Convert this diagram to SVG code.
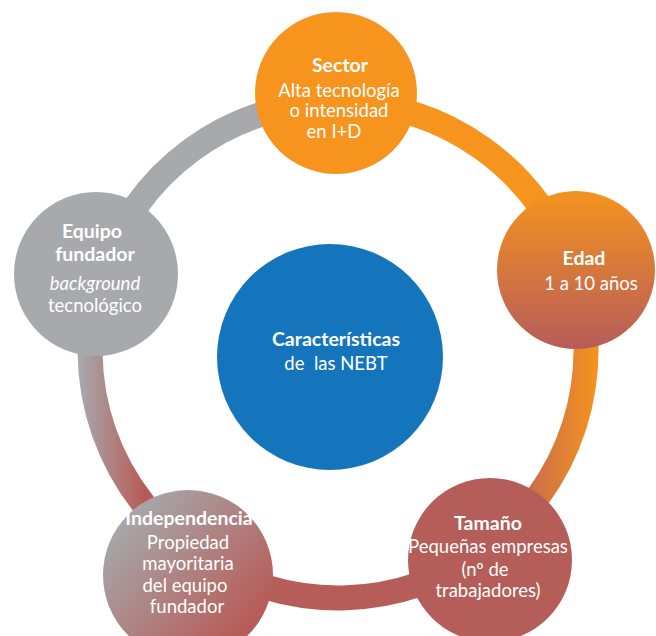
<svg xmlns="http://www.w3.org/2000/svg" width="656" height="636" viewBox="0 0 656 636">
<style>
  text { font-family: Lato, "Open Sans", sans-serif; font-size: 18.5px; fill: #ffffff; text-anchor: middle; }
  .b { font-weight: bold; font-size: 19.5px; }
  .i { font-style: italic; }
  .ring { fill: none; stroke-width: 25; }
</style>
<defs>
  <linearGradient id="gEdadRing" gradientUnits="userSpaceOnUse" x1="500" y1="0" x2="600" y2="0">
    <stop offset="0" stop-color="#b85e5a"/>
    <stop offset="1" stop-color="#f7941e"/>
  </linearGradient>
  <linearGradient id="gEquipoRing" gradientUnits="userSpaceOnUse" x1="80" y1="0" x2="145" y2="0">
    <stop offset="0" stop-color="#a7a8ab"/>
    <stop offset="1" stop-color="#b85a55"/>
  </linearGradient>
  <linearGradient id="gEdad" x1="0" y1="0" x2="0" y2="1">
    <stop offset="0" stop-color="#f5931f"/>
    <stop offset="1" stop-color="#b65c5a"/>
  </linearGradient>
  <linearGradient id="gIndep" x1="0.12" y1="0.15" x2="0.85" y2="0.8">
    <stop offset="0" stop-color="#a6a8ab"/>
    <stop offset="1" stop-color="#b75c58"/>
  </linearGradient>
</defs>
<g id="connectors">
  <path class="ring" stroke="#a7a9ac" d="M 101.4 275.8 A 248 248 0 0 1 338 102"/>
  <path class="ring" stroke="#f7941e" d="M 338 102 A 248 248 0 0 1 573.1 270.9"/>
  <path class="ring" stroke="url(#gEdadRing)" d="M 573.1 270.9 A 248 248 0 0 1 483.8 550.6"/>
  <path class="ring" stroke="#b65d59" d="M 483.8 550.6 A 248 248 0 0 1 200.4 556.3"/>
  <path class="ring" stroke="url(#gEquipoRing)" d="M 200.4 556.3 A 248 248 0 0 1 101.4 275.8"/>
</g>
<g id="center">
  <circle cx="330" cy="357" r="113" fill="#1474bc"/>
  <text class="b" x="336" y="346">Características</text>
  <text x="336" y="370" xml:space="preserve">de  las NEBT</text>
</g>
<g id="sector">
  <circle cx="336" cy="93" r="81" fill="#f7941e"/>
  <text class="b" x="340" y="72">Sector</text>
  <text x="339" y="97">Alta tecnología</text>
  <text x="339" y="117">o intensidad</text>
  <text x="334" y="138">en I+D</text>
</g>
<g id="edad">
  <circle cx="576" cy="270" r="79" fill="url(#gEdad)"/>
  <text class="b" x="584" y="265">Edad</text>
  <text x="591" y="290">1 a 10 años</text>
</g>
<g id="tamano">
  <circle cx="490" cy="560" r="82" fill="#b55d59"/>
  <text class="b" x="488" y="530">Tamaño</text>
  <text x="488" y="553">Pequeñas empresas</text>
  <text x="485" y="576">(nº de</text>
  <text x="488" y="597">trabajadores)</text>
</g>
<g id="independencia">
  <circle cx="188" cy="575" r="85" fill="url(#gIndep)"/>
  <text class="b" x="189" y="525">Independencia</text>
  <text x="188" y="549">Propiedad</text>
  <text x="188" y="570">mayoritaria</text>
  <text x="185" y="592">del equipo</text>
  <text x="187" y="613">fundador</text>
</g>
<g id="equipo">
  <circle cx="96" cy="274" r="82" fill="#a7a9ac"/>
  <text class="b" x="92" y="238">Equipo</text>
  <text class="b" x="95" y="261">fundador</text>
  <text class="i" x="95" y="290">background</text>
  <text x="95" y="312">tecnológico</text>
</g>
</svg>
